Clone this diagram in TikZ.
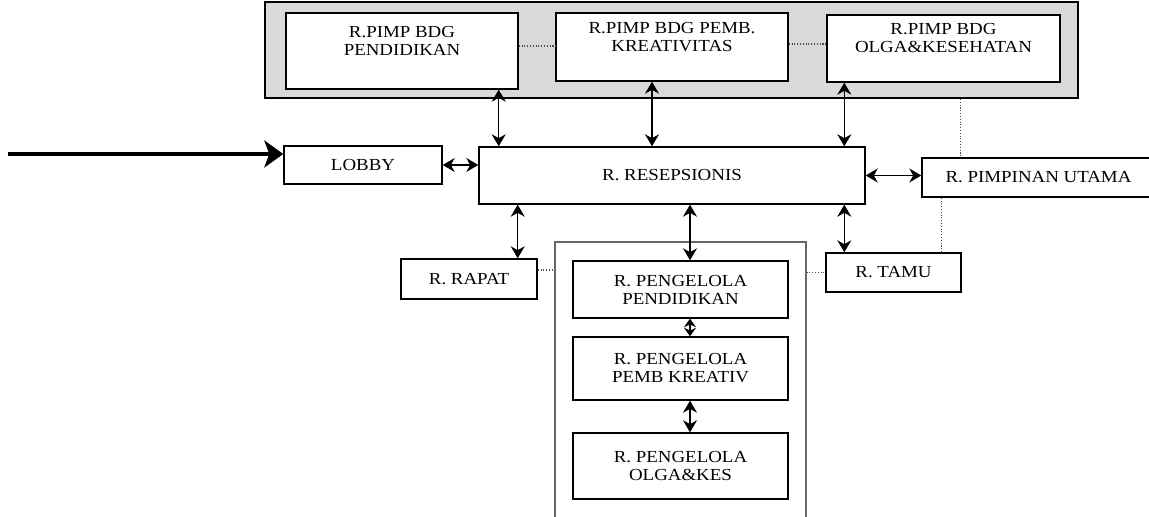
\documentclass[tikz,border=0pt]{standalone}
\usepackage{fontspec}
\setmainfont{Liberation Serif}[FakeStretch=1.12]
\usetikzlibrary{arrows.meta, positioning}

\begin{document}
\begin{tikzpicture}[
    roombox/.style={draw=black, fill=white, line width=0.8pt, inner sep=0pt, align=center, font=\fontsize{9.6}{10.2}\selectfont},
    pimpbox/.style={roombox, text depth=0.42cm},
    zonebox/.style={draw=black, line width=1.2pt, fill=black!15},
    groupbox/.style={draw=black!60, line width=0.6pt, fill=white},
    arrow/.style={line width=0.8pt, {Stealth[length=0.24cm, width=0.28cm]}-{Stealth[length=0.24cm, width=0.28cm]}},
    innerarrow/.style={line width=0.8pt, {Stealth[length=0.17cm, width=0.24cm]}-{Stealth[length=0.17cm, width=0.24cm]}},
    entryarrow/.style={line width=2.8pt, -{Stealth[length=0.38cm, width=0.54cm, inset=0.1cm]}},
    dotline/.style={densely dotted, line width=0.6pt, draw=black!70}
]
    \useasboundingbox (0,0) rectangle (22.98,10.34);

    \node[zonebox, minimum width=16.26cm, minimum height=1.92cm] (zone) at (13.43, 9.34) {};
    \node[pimpbox, minimum width=4.64cm, minimum height=1.52cm] (pimpdik) at (8.04, 9.32) {R.PIMP BDG\\PENDIDIKAN};
    \node[pimpbox, minimum width=4.64cm, minimum height=1.36cm] (pimpkre) at (13.44, 9.40) {R.PIMP BDG PEMB.\\KREATIVITAS};
    \node[pimpbox, minimum width=4.66cm, minimum height=1.34cm] (pimpolga) at (18.87, 9.37) {R.PIMP BDG\\OLGA\&KESEHATAN};

    \node[roombox, minimum width=3.16cm, minimum height=0.76cm] (lobby) at (7.26, 7.04) {LOBBY};
    \node[roombox, minimum width=7.72cm, minimum height=1.14cm] (resep) at (13.44, 6.83) {R. RESEPSIONIS};
    \node[roombox, minimum width=4.66cm, minimum height=0.78cm] (pimpinan) at (20.77, 6.79) {R. PIMPINAN UTAMA};

    \node[roombox, minimum width=2.72cm, minimum height=0.80cm] (rapat) at (9.38, 4.76) {R. RAPAT};
    \node[roombox, minimum width=2.70cm, minimum height=0.78cm] (tamu) at (17.87, 4.89) {R. TAMU};

    \node[groupbox, minimum width=5.02cm, minimum height=5.6cm] (kelola) at (13.61, 2.70) {};
    \node[roombox, minimum width=4.30cm, minimum height=1.14cm] (kelpend) at (13.61, 4.55) {R. PENGELOLA\\PENDIDIKAN};
    \node[roombox, minimum width=4.30cm, minimum height=1.26cm] (kelkre) at (13.61, 2.97) {R. PENGELOLA\\PEMB KREATIV};
    \node[roombox, minimum width=4.30cm, minimum height=1.32cm] (kelolga) at (13.61, 1.02) {R. PENGELOLA\\OLGA\&KES};

    \coordinate (entry) at (0.16, 7.26);
    \draw[entryarrow] (entry) -- (entry -| lobby.west);

    \draw[arrow] (lobby.east) -- (lobby.east -| resep.west);
    \draw[arrow] (resep.east) -- (resep.east -| pimpinan.west);
    \draw[arrow] ([xshift=-0.4cm]pimpdik.south east) -- ([xshift=-0.4cm]pimpdik.south east |- resep.north);
    \draw[arrow] ([xshift=-0.4cm]pimpkre.south) -- ([xshift=-0.4cm]pimpkre.south |- resep.north);
    \draw[arrow] ([xshift=0.36cm]pimpolga.south west) -- ([xshift=0.36cm]pimpolga.south west |- resep.north);
    \draw[arrow] ([xshift=-0.4cm]rapat.north east |- resep.south) -- ([xshift=-0.4cm]rapat.north east);
    \draw[arrow] ([xshift=0.19cm]kelpend.north |- resep.south) -- ([xshift=0.19cm]kelpend.north);
    \draw[arrow] ([xshift=0.38cm]tamu.north west |- resep.south) -- ([xshift=0.38cm]tamu.north west);
    \draw[innerarrow] ([xshift=0.19cm]kelpend.south) -- ([xshift=0.19cm]kelkre.north);
    \draw[arrow] ([xshift=0.19cm]kelkre.south) -- ([xshift=0.19cm]kelolga.north);

    \draw[dotline] ([yshift=0.1cm]pimpdik.east) -- ([yshift=0.1cm]pimpdik.east -| pimpkre.west);
    \draw[dotline] ([yshift=0.06cm]pimpkre.east) -- ([yshift=0.06cm]pimpkre.east -| pimpolga.west);
    \draw[dotline] ([xshift=0.78cm]pimpinan.north west |- zone.south) -- ([xshift=0.78cm]pimpinan.north west);
    \draw[dotline] ([xshift=0.4cm]pimpinan.south west) -- ([xshift=0.4cm]pimpinan.south west |- tamu.north);
    \draw[dotline] ([yshift=0.18cm]rapat.east) -- ([yshift=0.18cm]rapat.east -| kelola.west);
    \draw[dotline] (kelola.east |- tamu.west) -- (tamu.west);
\end{tikzpicture}
\end{document}
